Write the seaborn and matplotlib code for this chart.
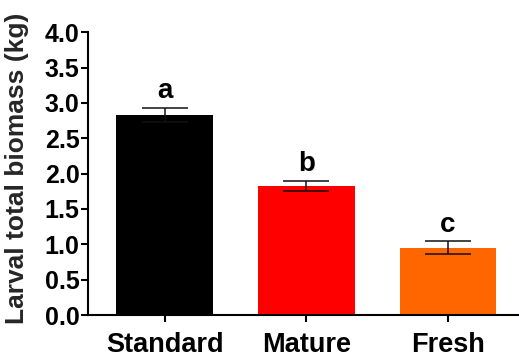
import matplotlib
matplotlib.use("Agg")
import matplotlib.pyplot as plt
import seaborn as sns
import numpy as np

categories = ["Standard", "Mature", "Fresh"]
values = [2.83, 1.83, 0.95]
errors = [0.10, 0.07, 0.09]
letters = ["a", "b", "c"]
colors = ["#000000", "#FF0000", "#FF6600"]
yticks = [0.0, 0.5, 1.0, 1.5, 2.0, 2.5, 3.0, 3.5, 4.0]

sns.set_style("ticks")
plt.rcParams["font.family"] = ["Liberation Sans", "DejaVu Sans"]
plt.rcParams["font.weight"] = "bold"

fig = plt.figure(figsize=(5.19, 3.58), dpi=100)
ax = fig.add_axes([0.1696, 0.1201, 0.8304, 0.7897])

sns.barplot(x=categories, y=values, hue=categories, palette=colors, width=0.68,
            legend=False, ax=ax, saturation=1, edgecolor="none")
xpos = np.arange(len(categories))
ax.errorbar(xpos, values, yerr=errors, fmt="none", ecolor="#111111",
            elinewidth=1.1, capsize=16.5, capthick=1.1, zorder=3)
for x, v, e, t in zip(xpos, values, errors, letters):
    ax.text(x, v + e + 0.05, t, ha="center", va="bottom", fontsize=20,
            fontweight="bold", color="black")

ax.set_ylim(0, 4.0)
ax.set_xlim(-0.54, 2.5)
ax.set_yticks(yticks)
ax.set_yticklabels([f"{t:.1f}" for t in yticks])
ax.set_ylabel("Larval total biomass (kg)", fontsize=19, fontweight="bold")
ax.yaxis.set_label_coords(-0.137, 0.52)
ax.set_xlabel("")
ax.tick_params(axis="y", labelsize=18, length=5, width=1.5, pad=1, colors="black")
ax.tick_params(axis="x", labelsize=19.5, length=5, width=1.5, pad=7, colors="black")
for lab in ax.get_xticklabels() + ax.get_yticklabels():
    lab.set_fontweight("bold")
for s in ["left", "bottom"]:
    ax.spines[s].set_linewidth(1.5)
    ax.spines[s].set_color("black")
for s in ["top", "right"]:
    ax.spines[s].set_visible(False)

fig.savefig("out.png", dpi=100)
